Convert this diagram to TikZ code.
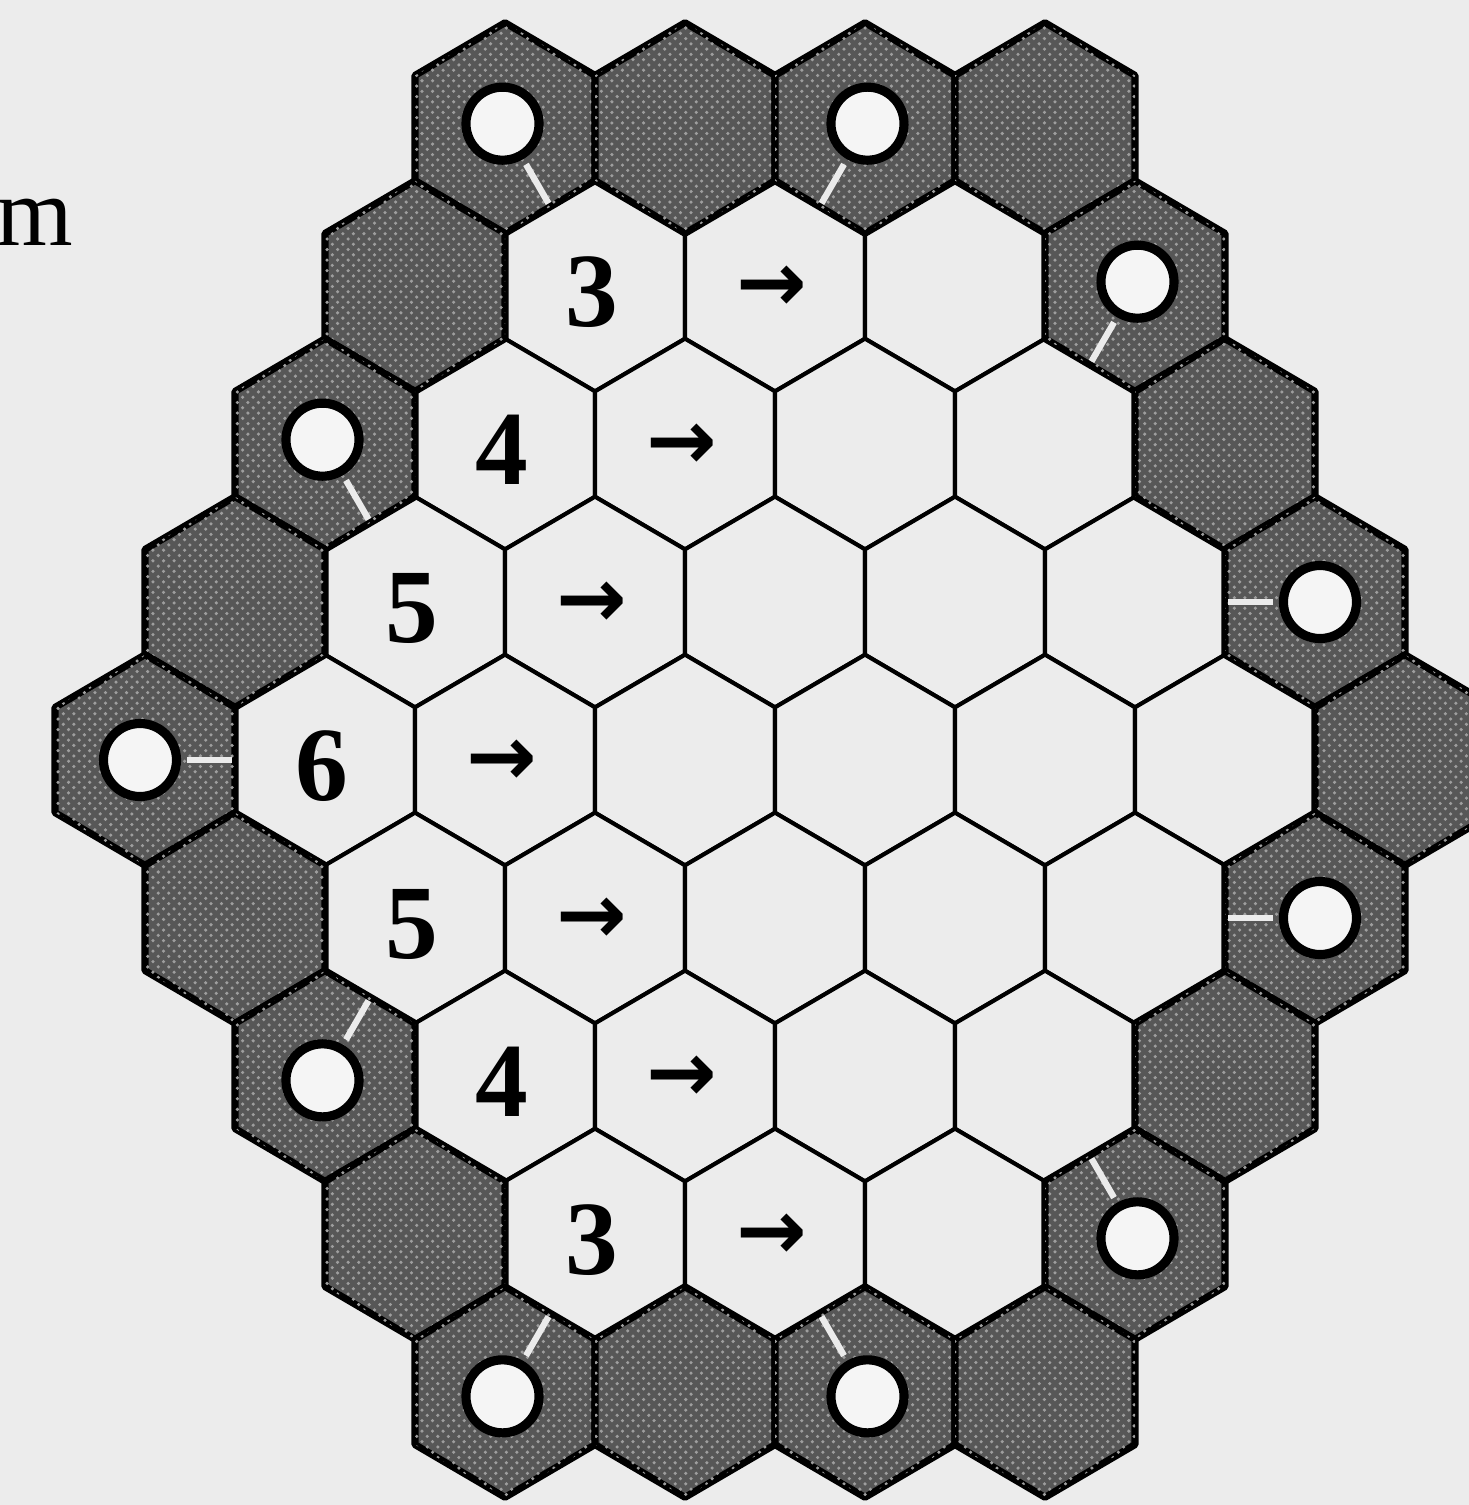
\documentclass[tikz,border=0pt]{standalone}
\usepackage{amsmath}
\usepackage{fontspec}
\setmainfont{Liberation Serif}
\newfontfamily\arrowfont{DejaVu Sans}
\usepackage{tikz}
\usetikzlibrary{patterns}

\definecolor{paper}{gray}{0.925}
\definecolor{seagray}{gray}{0.34}
\definecolor{foam}{gray}{0.62}

\tikzset{
  landcell/.style={fill=paper, draw=black, line width=1.15pt},
  seacell/.style={fill=seagray, draw=black, line width=2pt, line join=round},
  seagrain/.style={pattern=crosshatch dots, pattern color=foam},
  portring/.style={circle, fill=white!96!black, draw=black, line width=2.6pt,
    inner sep=0pt, minimum size=0.73cm},
  porttick/.style={draw=white!92!black, line width=1.8pt},
  rowlabel/.style={font=\fontsize{30}{34}\selectfont\bfseries, inner sep=0pt},
  dirlabel/.style={font=\fontsize{24}{28}\selectfont\arrowfont\bfseries, inner sep=0pt},
}

% one pointy-top cell round the origin
\newcommand{\hexcell}{(0,-105.3) -- (90,-52.65) -- (90,52.65) -- (0,105.3)
  -- (-90,52.65) -- (-90,-52.65) -- cycle}

\begin{document}
\begin{tikzpicture}[x=0.01cm, y=-0.01cm]
  \fill[paper] (0,0) rectangle (1469,1505);
  \useasboundingbox (0,0) rectangle (1469,1505);
  \clip (0,0) rectangle (1469,1505);
  % land cells: row / first x / cells in the row
  \foreach \r/\x/\n in {1/595/3, 2/505/4, 3/415/5, 4/325/6, 5/415/5, 6/505/4, 7/595/3} {
    \pgfmathsetmacro{\yy}{128+158*\r}
    \foreach \k in {1,...,\n} {
      \pgfmathsetmacro{\cx}{\x+180*(\k-1)}
      \draw[landcell, shift={(\cx,\yy)}] \hexcell;
    }
  }
  % the sea ring
  \foreach \cx/\cy in {505/128, 685/128, 865/128, 1045/128,
      415/286, 1135/286, 325/444, 1225/444, 235/602, 1315/602,
      145/760, 1405/760, 235/918, 1315/918, 325/1076, 1225/1076,
      415/1234, 1135/1234, 505/1392, 685/1392, 865/1392, 1045/1392} {
    \draw[seacell, shift={(\cx,\cy)}] \hexcell;
    \fill[seagrain, shift={(\cx,\cy)}] \hexcell;
  }
  % harbours, the tick faces the land
  \foreach \cx/\cy/\a [count=\i] in {505/128/60, 865/128/120, 1135/286/120,
      325/444/60, 1315/602/180, 145/760/0, 1315/918/180, 325/1076/-60,
      1135/1234/-120, 505/1392/-60, 865/1392/-120} {
    \begin{scope}[shift={(\cx,\cy)}]
      \draw[porttick] (\a:42) -- (\a:87);
      \node[portring] (port\i) at (\a+180:5) {};
    \end{scope}
  }
  % row sizes and direction marks
  \foreach \r/\x/\lbl in {1/595/3, 2/505/4, 3/415/5, 4/325/6, 5/415/5, 6/505/4, 7/595/3} {
    \pgfmathsetmacro{\yy}{128+158*\r}
    \node[rowlabel] (size\r) at (\x-3,\yy+6) {\lbl};
    \node[dirlabel] (dir\r) at (\x+177,\yy+3) {→};
  }
  \node[anchor=base east, inner sep=0pt, font=\fontsize{28}{30}\selectfont] (cutword) at (74,245) {m};
\end{tikzpicture}
\end{document}
